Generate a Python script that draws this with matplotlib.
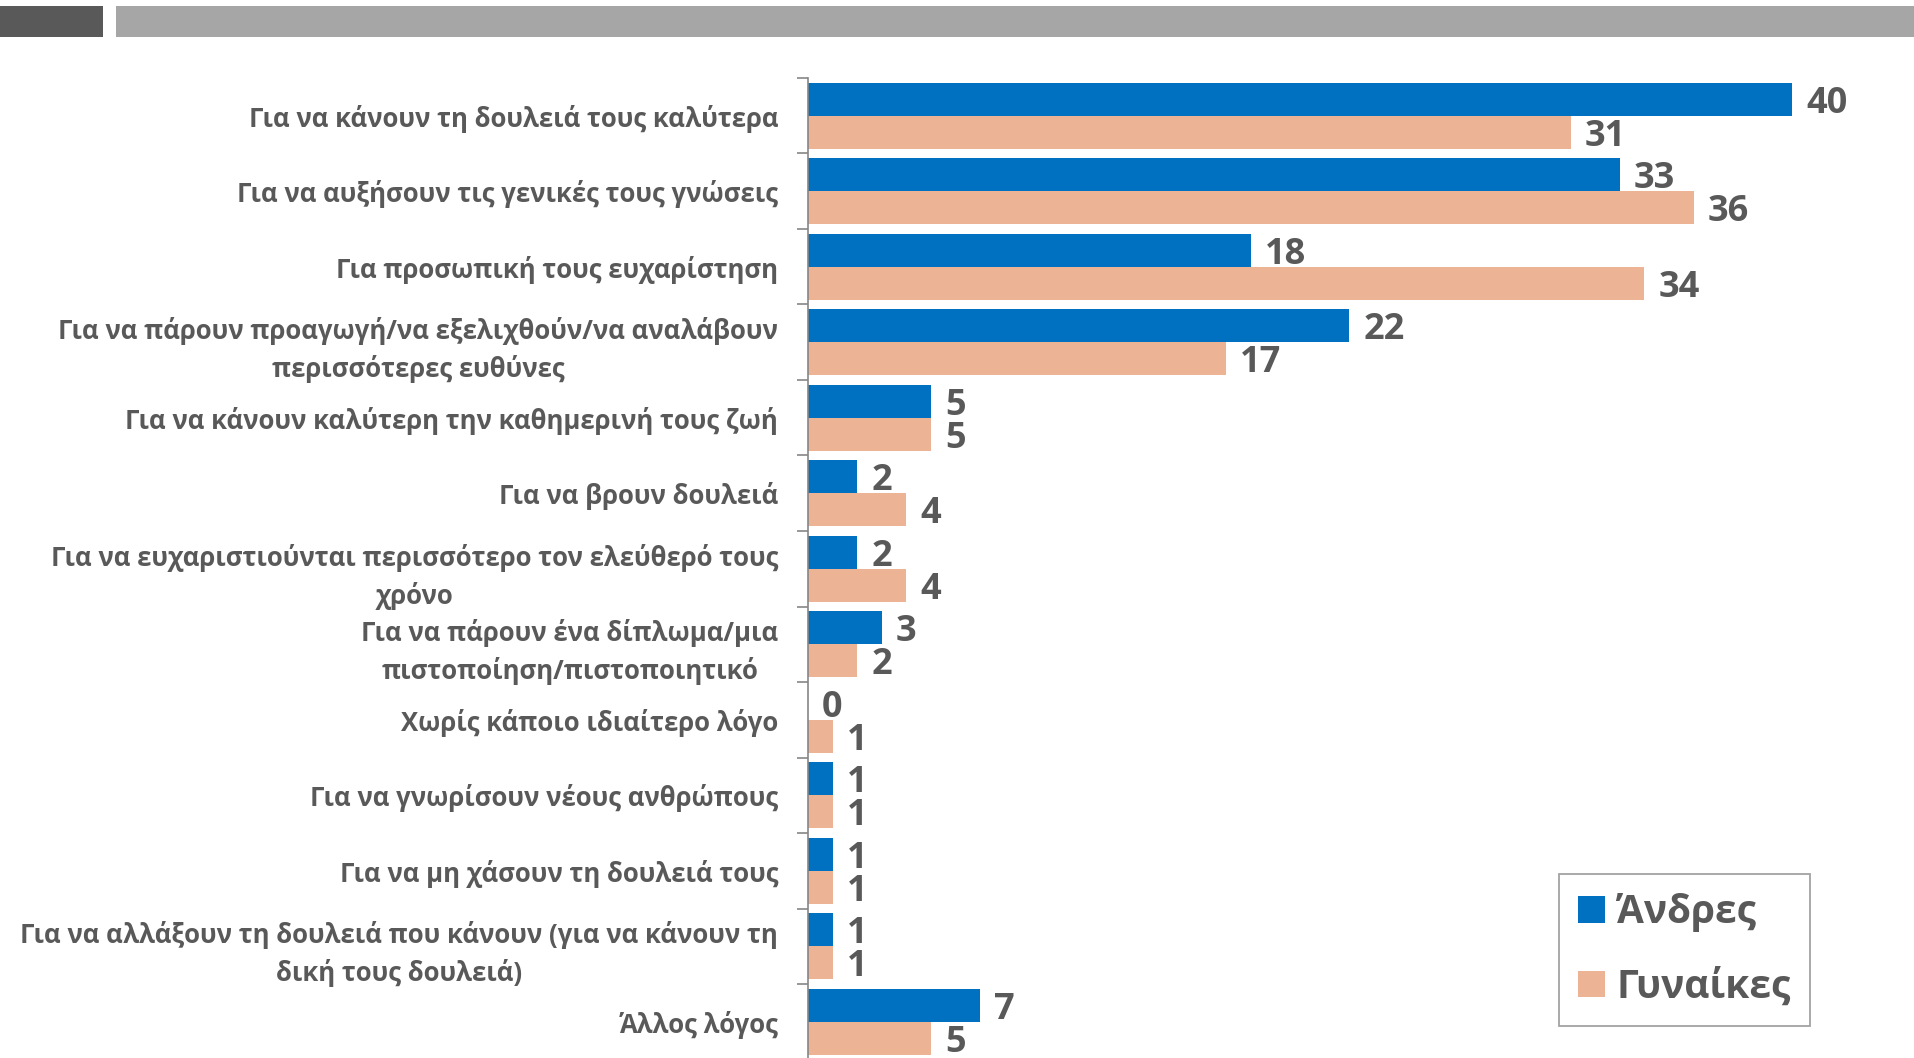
import matplotlib
matplotlib.use("Agg")
import matplotlib.pyplot as plt
from matplotlib.patches import Rectangle
import numpy as np

plt.rcParams['font.family'] = ['Open Sans', 'DejaVu Sans']

categories = [
    "Για να κάνουν τη δουλειά τους καλύτερα",
    "Για να αυξήσουν τις γενικές τους γνώσεις",
    "Για προσωπική τους ευχαρίστηση",
    "Για να πάρουν προαγωγή/να εξελιχθούν/να αναλάβουν\nπερισσότερες ευθύνες",
    "Για να κάνουν καλύτερη την καθημερινή τους ζωή",
    "Για να βρουν δουλειά",
    "Για να ευχαριστιούνται περισσότερο τον ελεύθερό τους\nχρόνο",
    "Για να πάρουν ένα δίπλωμα/μια\nπιστοποίηση/πιστοποιητικό",
    "Χωρίς κάποιο ιδιαίτερο λόγο",
    "Για να γνωρίσουν νέους ανθρώπους",
    "Για να μη χάσουν τη δουλειά τους",
    "Για να αλλάξουν τη δουλειά που κάνουν (για να κάνουν τη\nδική τους δουλειά)",
    "Άλλος λόγος",
]
men = [40, 33, 18, 22, 5, 2, 2, 3, 0, 1, 1, 1, 7]
women = [31, 36, 34, 17, 5, 4, 4, 2, 1, 1, 1, 1, 5]
series_names = ["Άνδρες", "Γυναίκες"]

BLUE = "#0070C0"
PINK = "#ECB394"
TXT = "#595959"
AX = "#868686"

W, H = 1915, 1058
fig = plt.figure(figsize=(W / 100, H / 100), dpi=100)

# header bars
fig.add_artist(Rectangle((0, 1 - 37 / H), 103 / W, 31 / H, transform=fig.transFigure,
                         facecolor="#595959", edgecolor="none"))
fig.add_artist(Rectangle((116 / W, 1 - 37 / H), (W - 116) / W, 31 / H, transform=fig.transFigure,
                         facecolor="#A6A6A6", edgecolor="none"))

ax = fig.add_axes([808 / W, -1.5 / H, 1107 / W, 981.5 / H])
y = np.arange(len(categories))
h = 0.437
b1 = ax.barh(y - h / 2, men, height=h, color=BLUE, label=series_names[0])
b2 = ax.barh(y + h / 2, women, height=h, color=PINK, label=series_names[1])

for bars, vals in ((b1, men), (b2, women)):
    for rect, v in zip(bars, vals):
        ax.annotate(f"{v}", (rect.get_width(), rect.get_y() + rect.get_height() / 2),
                    xytext=(10, 0), textcoords="offset points", ha="left", va="center_baseline",
                    fontsize=26, fontweight="bold", color=TXT)

ax.set_xlim(0, 45)
ax.set_ylim(len(categories) - 0.5, -0.5)
for s in ("top", "right", "bottom"):
    ax.spines[s].set_visible(False)
ax.spines["left"].set_color(AX)
ax.spines["left"].set_linewidth(1.2)
ax.set_xticks([])
ax.set_yticks(y)
ax.set_yticklabels(categories, fontsize=18.5, fontweight="bold", color=TXT)
for lbl in ax.get_yticklabels():
    lbl.set_multialignment("center")
    lbl.set_linespacing(1.45)
ax.tick_params(axis="y", which="major", length=0, pad=21.5)
ax.set_yticks(np.arange(-0.5, len(categories), 1), minor=True)
ax.tick_params(axis="y", which="minor", length=7.7, width=1.2, color=AX)

leg = fig.legend(handles=[b1, b2], labels=series_names, loc="upper left",
                 bbox_to_anchor=(1559 / W, 1 - 874 / H), bbox_transform=fig.transFigure,
                 prop={"weight": "bold", "size": 28}, handlelength=0.68, handleheight=0.68,
                 handletextpad=0.3, labelspacing=0.9, borderpad=0.5, frameon=True,
                 fancybox=False, edgecolor="#8C8C8C", borderaxespad=0)
leg.get_frame().set_linewidth(1.3)
for t in leg.get_texts():
    t.set_color(TXT)

fig.savefig("out.png", dpi=100)
